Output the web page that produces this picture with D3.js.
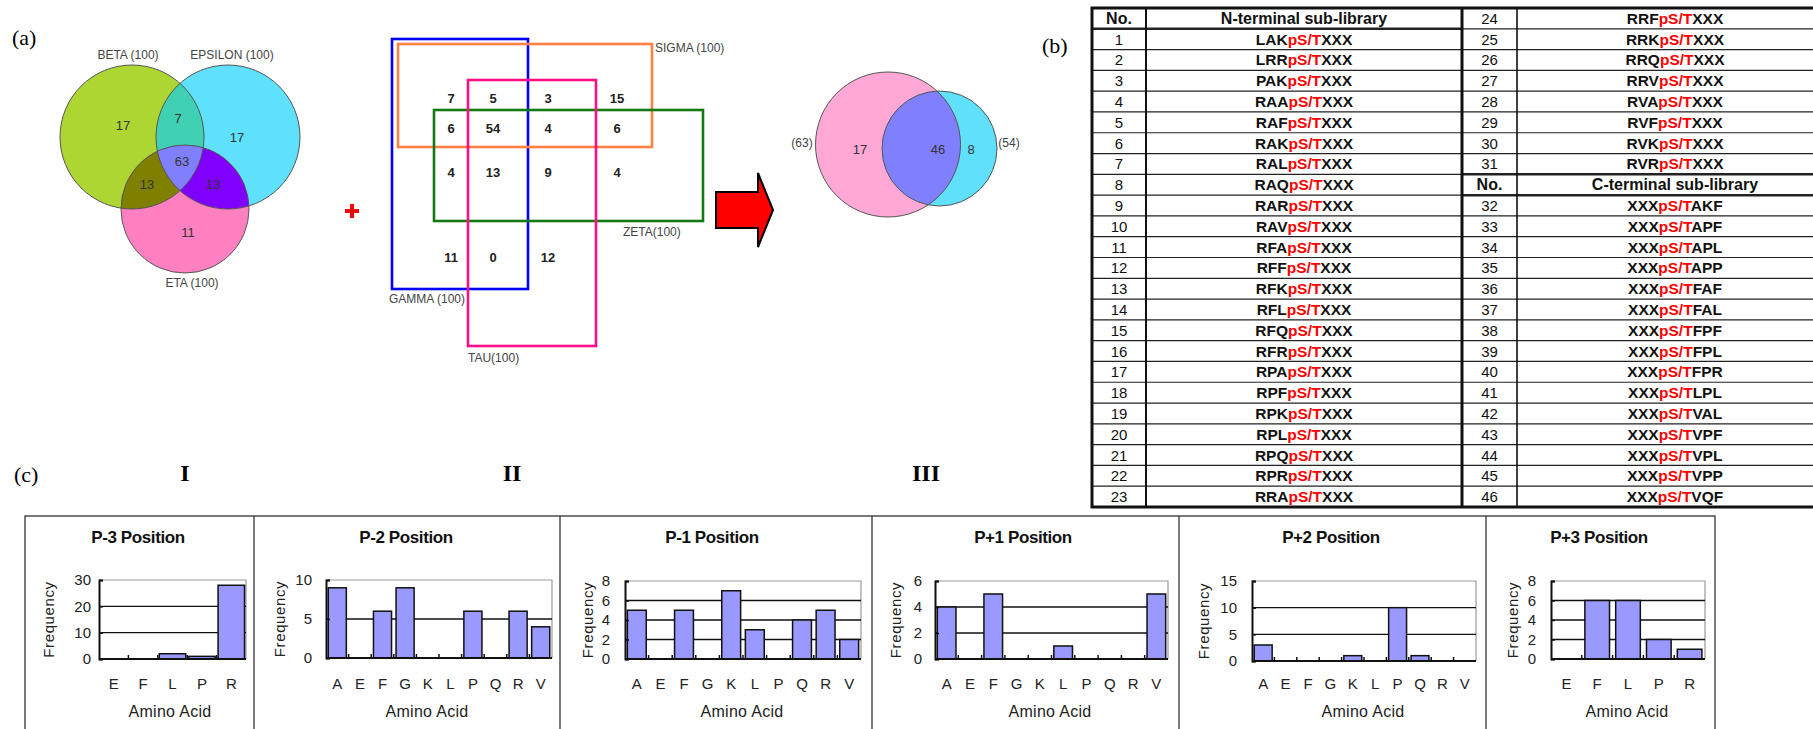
<!DOCTYPE html>
<html>
<head>
<meta charset="utf-8">
<script src="https://cdn.jsdelivr.net/npm/d3@7"></script>
<style>
  body { margin: 0; background: #fff; }
  svg { display: block; }
</style>
</head>
<body>
<div id="fig"></div>
<script>
// ---------- data ----------
const panelLabels = ["(a)", "(b)", "(c)"];
const romanLabels = ["I", "II", "III"];

const vennISets = ["BETA (100)", "EPSILON (100)", "ETA (100)"];
// beta only, epsilon only, eta only, beta&eps, beta&eta, eps&eta, all three
const vennICounts = [17, 17, 11, 7, 13, 13, 63];

const vennIISets = ["GAMMA (100)", "SIGMA (100)", "TAU(100)", "ZETA(100)"];
const vennIICounts = [[7, 5, 3, 15], [6, 54, 4, 6], [4, 13, 9, 4], [11, 0, 12]];

const vennIIISets = ["(63)", "(54)"];
const vennIIICounts = [17, 46, 8];

const tableHeaders = ["No.", "N-terminal sub-library", "C-terminal sub-library"];
const nTermPrefix = ["LAK","LRR","PAK","RAA","RAF","RAK","RAL","RAQ","RAR","RAV","RFA","RFF","RFK","RFL","RFQ","RFR",
                     "RPA","RPF","RPK","RPL","RPQ","RPR","RRA","RRF","RRK","RRQ","RRV","RVA","RVF","RVK","RVR"];
const cTermSuffix = ["AKF","APF","APL","APP","FAF","FAL","FPF","FPL","FPR","LPL","VAL","VPF","VPL","VPP","VQF"];

const posTitles = ["P-3 Position", "P-2 Position", "P-1 Position", "P+1 Position", "P+2 Position", "P+3 Position"];
const aa5 = ["E", "F", "L", "P", "R"];
const aa10 = ["A", "E", "F", "G", "K", "L", "P", "Q", "R", "V"];
const freqP3 = [0, 0, 2, 1, 28];
const freqP2 = [9, 0, 6, 9, 0, 0, 6, 0, 6, 4];
const freqP1 = [5, 0, 5, 0, 7, 3, 0, 4, 5, 2];
const freqPp1 = [4, 0, 5, 0, 0, 1, 0, 0, 0, 5];
const freqPp2 = [3, 0, 0, 0, 1, 0, 10, 1, 0, 0];
const freqPp3 = [0, 6, 6, 2, 1];
const yMax = [30, 10, 8, 6, 15, 8];
const yStep = [10, 5, 2, 2, 5, 2];

// ---------- setup ----------
const W = 1813, H = 729;
const SANS = "'Liberation Sans', Arial, sans-serif";
const SERIF = "'Liberation Serif', 'Times New Roman', serif";

const svg = d3.select("#fig").append("svg")
  .attr("width", W).attr("height", H)
  .style("background", "#fff");
const defs = svg.append("defs");

// panel letters
svg.selectAll(".plabel")
  .data(panelLabels)
  .enter().append("text")
  .attr("class", "plabel")
  .attr("x", (d, i) => [12, 1042, 14][i])
  .attr("y", (d, i) => [45, 53, 482][i])
  .attr("font-family", SERIF).attr("font-size", 22)
  .text(d => d);

svg.selectAll(".roman")
  .data(romanLabels)
  .enter().append("text")
  .attr("class", "roman")
  .attr("x", (d, i) => [185, 512, 926][i])
  .attr("y", 481)
  .attr("text-anchor", "middle")
  .attr("font-family", SERIF).attr("font-size", 24).attr("font-weight", "bold")
  .text(d => d);

// ---------- Venn I ----------
const vI = [{cx: 132, cy: 137, r: 72, fill: "#add633"},
            {cx: 228, cy: 137, r: 72, fill: "#5fe0fc"},
            {cx: 185, cy: 209, r: 64, fill: "#ff80c0"}];
vI.forEach((c, i) => {
  defs.append("clipPath").attr("id", "cI" + i)
    .append("circle").attr("cx", c.cx).attr("cy", c.cy).attr("r", c.r);
});
const gI = svg.append("g");
gI.selectAll("circle.base")
  .data(vI).enter().append("circle")
  .attr("class", "base")
  .attr("cx", d => d.cx).attr("cy", d => d.cy).attr("r", d => d.r)
  .attr("fill", d => d.fill);
const circ = (g, c, fill) => g.append("circle").attr("cx", c.cx).attr("cy", c.cy).attr("r", c.r).attr("fill", fill);
circ(gI.append("g").attr("clip-path", "url(#cI0)"), vI[1], "#40d0b4");
circ(gI.append("g").attr("clip-path", "url(#cI0)"), vI[2], "#808000");
circ(gI.append("g").attr("clip-path", "url(#cI1)"), vI[2], "#8000ff");
circ(gI.append("g").attr("clip-path", "url(#cI0)").append("g").attr("clip-path", "url(#cI1)"), vI[2], "#8080ff");
gI.selectAll("circle.edge")
  .data(vI).enter().append("circle")
  .attr("class", "edge")
  .attr("cx", d => d.cx).attr("cy", d => d.cy).attr("r", d => d.r)
  .attr("fill", "none").attr("stroke", "#555").attr("stroke-width", 1);

const vIcountPos = [[123, 125], [237, 137], [188, 232], [178, 118], [147, 184], [213, 184], [182, 161]];
gI.selectAll("text.cnt")
  .data(vennICounts).enter().append("text")
  .attr("x", (d, i) => vIcountPos[i][0]).attr("y", (d, i) => vIcountPos[i][1] + 5)
  .attr("text-anchor", "middle").attr("font-family", SANS).attr("font-size", 13).attr("fill", "#333")
  .text(d => d);
const vIlabelPos = [[128, 59], [232, 59], [192, 287]];
gI.selectAll("text.set")
  .data(vennISets).enter().append("text")
  .attr("x", (d, i) => vIlabelPos[i][0]).attr("y", (d, i) => vIlabelPos[i][1])
  .attr("text-anchor", "middle").attr("font-family", SANS).attr("font-size", 12).attr("fill", "#444")
  .text(d => d);

// plus sign
svg.selectAll(".plus").data([352, 352]).enter().append("rect")
  .attr("x", (d, i) => i ? d - 7 : d - 2).attr("y", (d, i) => i ? 209 : 204)
  .attr("width", (d, i) => i ? 14 : 4).attr("height", (d, i) => i ? 4 : 14)
  .attr("fill", "#f00");

// ---------- Venn II ----------
const rects = [
  {x0: 392, y0: 39, x1: 528, y1: 289, c: "#0000ff"},
  {x0: 398, y0: 44, x1: 652, y1: 147, c: "#ff8040"},
  {x0: 468, y0: 80, x1: 596, y1: 346, c: "#ff0f86"},
  {x0: 434, y0: 110, x1: 703, y1: 221, c: "#137a13"}
];
const gII = svg.append("g");
gII.selectAll("rect")
  .data([rects[0], rects[1], rects[3], rects[2]]).enter().append("rect")
  .attr("x", d => d.x0).attr("y", d => d.y0)
  .attr("width", d => d.x1 - d.x0).attr("height", d => d.y1 - d.y0)
  .attr("fill", "none").attr("stroke", d => d.c).attr("stroke-width", 2.6);
const vIIlabelPos = [[389, 303], [655, 52], [468, 362], [623, 236]];
gII.selectAll("text.set")
  .data(vennIISets).enter().append("text")
  .attr("x", (d, i) => vIIlabelPos[i][0]).attr("y", (d, i) => vIIlabelPos[i][1])
  .attr("font-family", SANS).attr("font-size", 12).attr("fill", "#444")
  .text(d => d);
const colX = [451, 493, 548, 617], rowY = [98, 128, 172, 257];
vennIICounts.forEach((row, ri) => {
  gII.selectAll("text.r" + ri)
    .data(row).enter().append("text")
    .attr("x", (d, i) => colX[i]).attr("y", rowY[ri] + 5)
    .attr("text-anchor", "middle").attr("font-family", SANS).attr("font-size", 13)
    .attr("font-weight", "bold").attr("fill", "#222")
    .text(d => d);
});

// arrow
svg.append("path")
  .attr("d", "M716,192 L758,192 L758,173 L773,210 L758,247 L758,228 L716,228 Z")
  .attr("fill", "#ff0000").attr("stroke", "#000").attr("stroke-width", 2);

// ---------- Venn III ----------
const vIII = [{cx: 888, cy: 144.5, r: 72.5, fill: "#ffa8d6"},
              {cx: 939.5, cy: 148.5, r: 57.5, fill: "#60e0fb"}];
defs.append("clipPath").attr("id", "cIII0")
  .append("circle").attr("cx", vIII[0].cx).attr("cy", vIII[0].cy).attr("r", vIII[0].r);
const gIII = svg.append("g");
gIII.selectAll("circle.base").data(vIII).enter().append("circle")
  .attr("class", "base")
  .attr("cx", d => d.cx).attr("cy", d => d.cy).attr("r", d => d.r).attr("fill", d => d.fill);
circ(gIII.append("g").attr("clip-path", "url(#cIII0)"), vIII[1], "#8080ff");
gIII.selectAll("circle.edge").data(vIII).enter().append("circle")
  .attr("class", "edge")
  .attr("cx", d => d.cx).attr("cy", d => d.cy).attr("r", d => d.r)
  .attr("fill", "none").attr("stroke", "#555").attr("stroke-width", 1);
gIII.selectAll("text.set").data(vennIIISets).enter().append("text")
  .attr("x", (d, i) => [802, 1009][i]).attr("y", 147)
  .attr("text-anchor", "middle").attr("font-family", SANS).attr("font-size", 12).attr("fill", "#444")
  .text(d => d);
gIII.selectAll("text.cnt").data(vennIIICounts).enter().append("text")
  .attr("x", (d, i) => [860, 938, 971][i]).attr("y", 154)
  .attr("text-anchor", "middle").attr("font-family", SANS).attr("font-size", 13).attr("fill", "#333")
  .text(d => d);

// ---------- table (b) ----------
const tTop = 8, tBot = 507, nRows = 24, rowH = (tBot - tTop) / nRows;
const tx = [1092, 1146, 1462, 1517, 1833];
const gT = svg.append("g");

const leftRows = [{no: tableHeaders[0], seq: tableHeaders[1], head: true}]
  .concat(nTermPrefix.slice(0, 23).map((p, i) => ({no: i + 1, seq: [p, "pS/T", "XXX"]})));
const rightRows = nTermPrefix.slice(23).map((p, i) => ({no: i + 24, seq: [p, "pS/T", "XXX"]}))
  .concat([{no: tableHeaders[0], seq: tableHeaders[2], head: true}])
  .concat(cTermSuffix.map((s, i) => ({no: i + 32, seq: ["XXX", "pS/T", s]})));

function drawRows(rows, xNo0, xNo1, xSeq1) {
  rows.forEach((r, i) => {
    const y0 = tTop + i * rowH, yc = y0 + rowH / 2 + 5.5;
    gT.append("text")
      .attr("x", (xNo0 + xNo1) / 2).attr("y", yc)
      .attr("text-anchor", "middle").attr("font-family", SANS)
      .attr("font-size", r.head ? 16 : 15).attr("font-weight", r.head ? "bold" : "normal")
      .attr("fill", "#111").text(r.no);
    const t = gT.append("text")
      .attr("x", (xNo1 + xSeq1) / 2).attr("y", yc)
      .attr("text-anchor", "middle").attr("font-family", SANS)
      .attr("font-size", r.head ? 16 : 15.5).attr("font-weight", "bold").attr("fill", "#111");
    if (r.head) t.text(r.seq);
    else t.selectAll("tspan").data(r.seq).enter().append("tspan")
      .attr("fill", (d, k) => k === 1 ? "#ff0000" : "#111").text(d => d);
  });
}
drawRows(leftRows, tx[0], tx[1], tx[2]);
drawRows(rightRows, tx[2], tx[3], tx[4]);

// row lines
d3.range(1, nRows).forEach(i => {
  const y = tTop + i * rowH;
  const thickL = i === 1, thickR = i === 8 || i === 9;
  gT.append("line").attr("x1", tx[0]).attr("x2", tx[2]).attr("y1", y).attr("y2", y)
    .attr("stroke", "#222").attr("stroke-width", thickL ? 2.5 : 1.2);
  gT.append("line").attr("x1", tx[2]).attr("x2", tx[4]).attr("y1", y).attr("y2", y)
    .attr("stroke", "#222").attr("stroke-width", thickR ? 2.5 : 1.2);
});
// vertical lines
gT.append("line").attr("x1", tx[1]).attr("x2", tx[1]).attr("y1", tTop).attr("y2", tBot)
  .attr("stroke", "#111").attr("stroke-width", 2);
gT.append("line").attr("x1", tx[3]).attr("x2", tx[3]).attr("y1", tTop).attr("y2", tBot)
  .attr("stroke", "#111").attr("stroke-width", 1.6);
gT.append("line").attr("x1", tx[2]).attr("x2", tx[2]).attr("y1", tTop).attr("y2", tBot)
  .attr("stroke", "#111").attr("stroke-width", 3);
gT.append("rect").attr("x", tx[0]).attr("y", tTop)
  .attr("width", tx[4] - tx[0]).attr("height", tBot - tTop)
  .attr("fill", "none").attr("stroke", "#111").attr("stroke-width", 3);

// ---------- bar charts (c) ----------
const boxTop = 516, boxBot = 735;
const charts = [
  {cats: aa5, vals: freqP3},
  {cats: aa10, vals: freqP2},
  {cats: aa10, vals: freqP1},
  {cats: aa10, vals: freqPp1},
  {cats: aa10, vals: freqPp2},
  {cats: aa5, vals: freqPp3}
];
// panel frames and plot rectangles
const boxes = [
  {x0: 25,   x1: 254,  l: 99,   r: 246,  t: 580, b: 659, tx: 138,  fx: 49,   ax: 170,  gap: 8,  pad: 0.1},
  {x0: 254,  x1: 560,  l: 326,  r: 552,  t: 580, b: 658, tx: 406,  fx: 280,  ax: 427,  gap: 14, pad: 0.2},
  {x0: 560,  x1: 872,  l: 625,  r: 861,  t: 581, b: 659, tx: 712,  fx: 588,  ax: 742,  gap: 15, pad: 0.2},
  {x0: 872,  x1: 1179, l: 935,  r: 1168, t: 581, b: 659, tx: 1023, fx: 896,  ax: 1050, gap: 13, pad: 0.2},
  {x0: 1179, x1: 1486, l: 1252, r: 1476, t: 581, b: 661, tx: 1331, fx: 1204, ax: 1363, gap: 15, pad: 0.2},
  {x0: 1486, x1: 1715, l: 1551, r: 1705, t: 581, b: 659, tx: 1599, fx: 1513, ax: 1627, gap: 15, pad: 0.2}
];

const gC = svg.append("g");
gC.append("rect").attr("x", boxes[0].x0).attr("y", boxTop)
  .attr("width", boxes[5].x1 - boxes[0].x0).attr("height", boxBot - boxTop)
  .attr("fill", "none").attr("stroke", "#222").attr("stroke-width", 1.2);

charts.forEach((c, i) => {
  const bx = boxes[i];
  const g = gC.append("g");
  if (i > 0) g.append("line").attr("x1", bx.x0).attr("x2", bx.x0)
    .attr("y1", boxTop).attr("y2", boxBot).attr("stroke", "#222").attr("stroke-width", 1.2);

  g.append("text").attr("x", bx.tx).attr("y", 543)
    .attr("text-anchor", "middle").attr("font-family", SANS).attr("font-size", 17)
    .attr("font-weight", "bold").attr("letter-spacing", -0.4).attr("fill", "#111")
    .text(posTitles[i]);

  const x = d3.scaleBand().domain(c.cats).range([bx.l, bx.r]).paddingInner(bx.pad).paddingOuter(bx.pad / 2);
  const y = d3.scaleLinear().domain([0, yMax[i]]).range([bx.b, bx.t]);
  const ticks = d3.range(0, yMax[i] + 0.001, yStep[i]);

  // plot frame
  g.append("path")
    .attr("d", `M${bx.l},${bx.t}H${bx.r}V${bx.b}`)
    .attr("fill", "none").attr("stroke", "#999").attr("stroke-width", 1.2);
  g.selectAll("line.grid").data(ticks.filter(t => t > 0 && t < yMax[i])).enter().append("line")
    .attr("x1", bx.l).attr("x2", bx.r).attr("y1", d => y(d)).attr("y2", d => y(d))
    .attr("stroke", "#111").attr("stroke-width", 1.3);

  g.selectAll("rect.bar").data(c.vals).enter().append("rect")
    .attr("class", "bar")
    .attr("x", (d, k) => x(c.cats[k])).attr("width", x.bandwidth())
    .attr("y", d => y(d)).attr("height", d => y(0) - y(d))
    .attr("fill", "#9999ff").attr("stroke", "#111").attr("stroke-width", 1.5)
    .style("display", d => d > 0 ? null : "none");

  // y axis
  const ya = g.append("g").attr("transform", `translate(${bx.l},0)`)
    .call(d3.axisLeft(y).tickValues(ticks).tickSize(-4).tickPadding(bx.gap).tickFormat(d3.format("d")));
  ya.select(".domain").attr("stroke", "#111").attr("stroke-width", 2);
  ya.selectAll(".tick line").attr("stroke", "#111").attr("stroke-width", 1.5);
  ya.selectAll("text").attr("font-family", SANS).attr("font-size", 15).attr("fill", "#222");

  // x axis
  g.append("line").attr("x1", bx.l).attr("x2", bx.r).attr("y1", bx.b).attr("y2", bx.b)
    .attr("stroke", "#111").attr("stroke-width", 2);
  g.selectAll("line.xt").data(c.cats.slice(1)).enter().append("line")
    .attr("x1", d => x(d) - x.step() * x.paddingInner() / 2)
    .attr("x2", d => x(d) - x.step() * x.paddingInner() / 2)
    .attr("y1", bx.b).attr("y2", bx.b - 4)
    .attr("stroke", "#111").attr("stroke-width", 1.5);
  g.selectAll("text.xl").data(c.cats).enter().append("text")
    .attr("x", d => x(d) + x.bandwidth() / 2).attr("y", 689)
    .attr("text-anchor", "middle").attr("font-family", SANS).attr("font-size", 15).attr("fill", "#222")
    .text(d => d);

  g.append("text").attr("x", bx.ax).attr("y", 717)
    .attr("text-anchor", "middle").attr("font-family", SANS).attr("font-size", 16)
    .attr("letter-spacing", 0.3).attr("fill", "#222")
    .text("Amino Acid");
  g.append("text")
    .attr("transform", `translate(${bx.fx + 5},${(bx.t + bx.b) / 2}) rotate(-90)`)
    .attr("text-anchor", "middle").attr("font-family", SANS).attr("font-size", 15)
    .attr("letter-spacing", 0.6).attr("fill", "#222")
    .text("Frequency");
});
</script>
</body>
</html>
